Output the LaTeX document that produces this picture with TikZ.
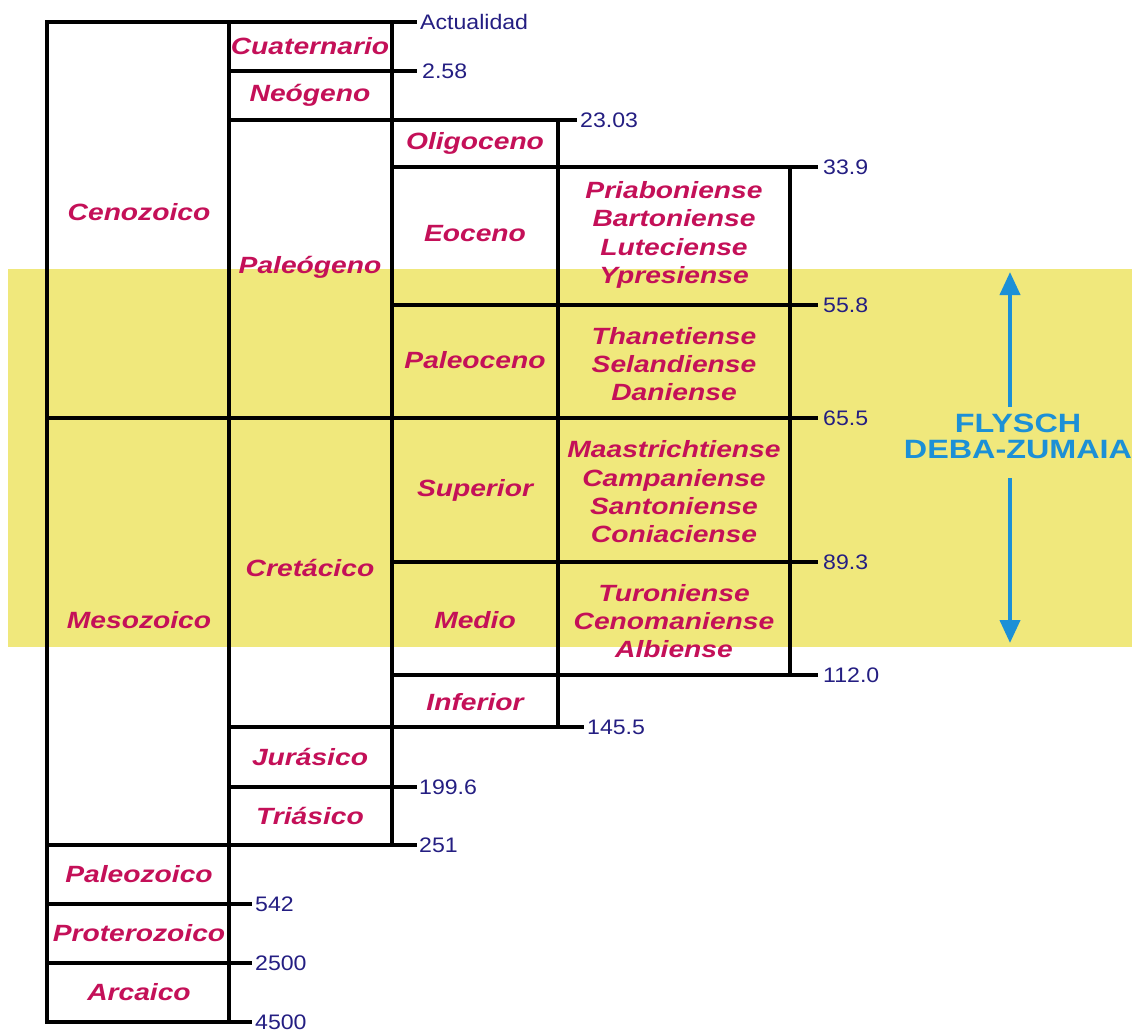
\documentclass[tikz,border=0pt]{standalone}
\usepackage{fontspec}
\setmainfont{Liberation Sans}
\newfontfamily\labfont[FakeStretch=1.2]{Liberation Sans}
\newfontfamily\numfont[FakeStretch=1.1]{Liberation Sans}
\newfontfamily\flyfont[FakeStretch=1.22]{Liberation Sans}
\usetikzlibrary{arrows.meta}
\definecolor{labc}{RGB}{196,16,88}
\definecolor{numc}{RGB}{36,30,130}
\definecolor{bandc}{RGB}{240,232,124}
\definecolor{flyc}{RGB}{28,144,214}
\begin{document}
\begin{tikzpicture}[x=1pt,y=-1pt,
  rule/.style={line width=3.2pt, line cap=rect, black},
  lbl/.style={font=\labfont\bfseries\itshape\fontsize{23.5}{28.3}\selectfont, text=labc, align=center, inner sep=0pt},
  numl/.style={font=\numfont\fontsize{21}{24}\selectfont, text=numc, anchor=west, inner sep=0pt},
  flytxt/.style={font=\flyfont\bfseries\fontsize{26.5}{26}\selectfont, text=flyc, anchor=base, inner sep=0pt},
  flyarrow/.style={draw=flyc, line width=4pt, -{Triangle[width=20pt,length=23pt]}, fill=flyc}]
\useasboundingbox (0,0) rectangle (1132,1032);
\fill[white] (0,0) rectangle (1132,1032);
% highlighted band
\fill[bandc] (8,269) rectangle (1132,647);

% horizontal rules
\draw[rule] (47,22) -- (415,22);
\draw[rule] (229,71) -- (415,71);
\draw[rule] (229,120) -- (575,120);
\draw[rule] (392,167) -- (816,167);
\draw[rule] (392,305) -- (816,305);
\draw[rule] (47,418) -- (816,418);
\draw[rule] (392,562) -- (816,562);
\draw[rule] (392,675) -- (816,675);
\draw[rule] (229,727) -- (582,727);
\draw[rule] (229,787) -- (415,787);
\draw[rule] (47,845) -- (415,845);
\draw[rule] (47,904) -- (250,904);
\draw[rule] (47,963) -- (250,963);
\draw[rule] (47,1022) -- (250,1022);
% vertical rules
\draw[rule] (47,22) -- (47,1022);
\draw[rule] (229,22) -- (229,1022);
\draw[rule] (392,22) -- (392,845);
\draw[rule] (558,120) -- (558,727);
\draw[rule] (790,167) -- (790,675);

% eons
\node[lbl] (ceno) at (139,212) {Cenozoico};
\node[lbl] (meso) at (139,620) {Mesozoico};
\node[lbl] (paleoz) at (139,874) {Paleozoico};
\node[lbl] (protero) at (139,933) {Proterozoico};
\node[lbl] (arca) at (139,992) {Arcaico};
% periods
\node[lbl] (cuat) at (310,46) {Cuaternario};
\node[lbl] (neog) at (310,95) {Neógeno};
\node[lbl] (paleog) at (310,267) {Paleógeno};
\node[lbl] (creta) at (310,568) {Cretácico};
\node[lbl] (jura) at (310,757) {Jurásico};
\node[lbl] (tria) at (310,816) {Triásico};
% epochs
\node[lbl] (oligo) at (475,143) {Oligoceno};
\node[lbl] (eoc) at (475,234) {Eoceno};
\node[lbl] (paleoc) at (475,360) {Paleoceno};
\node[lbl] (sup) at (475,490) {Superior};
\node[lbl] (med) at (475,620) {Medio};
\node[lbl] (inf) at (475,702) {Inferior};
% stages
\node[lbl] (st1) at (674,235) {Priaboniense\\Bartoniense\\Luteciense\\Ypresiense};
\node[lbl] (st2) at (674,364) {Thanetiense\\Selandiense\\Daniense};
\node[lbl] (st3) at (674,492) {Maastrichtiense\\Campaniense\\Santoniense\\Coniaciense};
\node[lbl] (st4) at (674,621) {Turoniense\\Cenomaniense\\Albiense};

% ages
\node[numl] (n0) at (420,22) {Actualidad};
\node[numl] (n1) at (422,71) {2.58};
\node[numl] (n2) at (580,120) {23.03};
\node[numl] (n3) at (823,167) {33.9};
\node[numl] (n4) at (823,305) {55.8};
\node[numl] (n5) at (823,418) {65.5};
\node[numl] (n6) at (823,562) {89.3};
\node[numl] (n7) at (823,675) {112.0};
\node[numl] (n8) at (587,727) {145.5};
\node[numl] (n9) at (419,787) {199.6};
\node[numl] (n10) at (419,845) {251};
\node[numl] (n11) at (255,904) {542};
\node[numl] (n12) at (255,963) {2500};
\node[numl] (n13) at (255,1022) {4500};

% Flysch
\node[flytxt] (fly1) at (1018,432) {FLYSCH};
\node[flytxt] (fly2) at (1018,458) {DEBA-ZUMAIA};
\coordinate (upstart) at (1010,407);
\coordinate (uptip) at (1010,272);
\coordinate (dnstart) at (1010,478);
\coordinate (dntip) at (1010,643);
\draw[flyarrow] (upstart) -- (uptip);
\draw[flyarrow] (dnstart) -- (dntip);
\end{tikzpicture}
\end{document}
